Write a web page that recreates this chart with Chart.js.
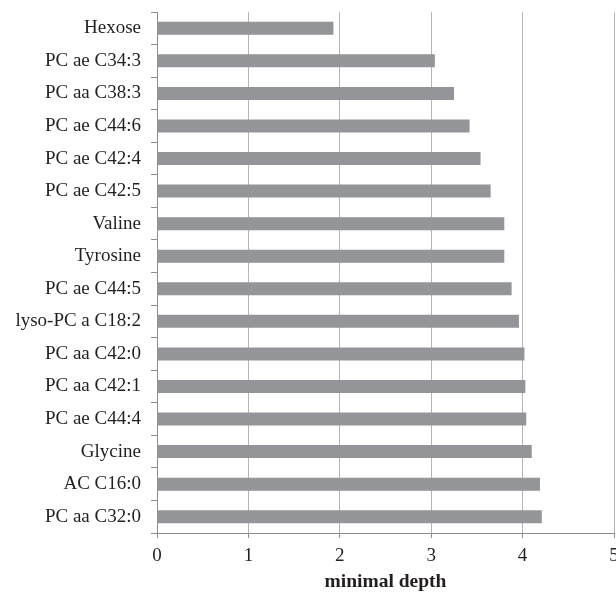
<!DOCTYPE html>
<html>
<head>
<meta charset="utf-8">
<script src="https://cdn.jsdelivr.net/npm/chart.js@4"></script>
<style>
  html, body { margin: 0; padding: 0; background: #fff; overflow: hidden; }
  #wrap { width: 616px; height: 594px; }
</style>
</head>
<body>
<div id="wrap"><canvas id="chartCanvas"></canvas></div>
<script>
    // Données
    const categories = [
        'Hexose', 'PC ae C34:3', 'PC aa C38:3', 'PC ae C44:6', 'PC ae C42:4',
        'PC ae C42:5', 'Valine', 'Tyrosine', 'PC ae C44:5', 'lyso-PC a C18:2',
        'PC aa C42:0', 'PC aa C42:1', 'PC ae C44:4', 'Glycine', 'AC C16:0', 'PC aa C32:0'
    ];
    const minimalDepth = [
        1.93, 3.04, 3.25, 3.42, 3.54,
        3.65, 3.80, 3.80, 3.88, 3.96,
        4.02, 4.03, 4.04, 4.10, 4.19, 4.21
    ];
    const xTicks = [0, 1, 2, 3, 4, 5];

    const serif = "'Liberation Serif', 'DejaVu Serif', serif";

    new Chart(document.getElementById('chartCanvas'), {
        type: 'bar',
        data: {
            labels: categories,
            datasets: [{
                data: minimalDepth,
                backgroundColor: '#939598',
                borderWidth: 0,
                barPercentage: 0.4,
                categoryPercentage: 1.0
            }]
        },
        options: {
            indexAxis: 'y',
            responsive: true,
            maintainAspectRatio: false,
            animation: false,
            layout: { padding: { top: 12, left: 0, right: 0, bottom: 0 } },
            plugins: {
                legend: { display: false },
                tooltip: { enabled: false }
            },
            scales: {
                x: {
                    min: 0,
                    max: 5,
                    afterBuildTicks: (scale) => {
                        scale.ticks = xTicks.map(v => ({ value: v }));
                    },
                    afterFit: (scale) => {
                        scale.height = 61;
                        // le "5" est coupé au bord droit comme dans l'original
                        scale.paddingRight = 2;
                    },
                    grid: {
                        color: '#b5b5b5',
                        lineWidth: 1,
                        tickLength: 5,
                        tickColor: '#8c8c8c'
                    },
                    border: { color: '#8c8c8c', width: 1 },
                    ticks: {
                        color: '#231f20',
                        padding: 7,
                        font: { family: serif, size: 19 }
                    },
                    title: {
                        display: true,
                        text: 'minimal depth',
                        color: '#231f20',
                        padding: { top: 4, bottom: 0 },
                        font: { family: serif, size: 19.5, weight: 'bold' }
                    }
                },
                y: {
                    afterFit: (scale) => {
                        scale.width = 157;
                        scale.paddingTop = 0;
                        scale.paddingBottom = 0;
                    },
                    grid: {
                        drawOnChartArea: false,
                        drawTicks: true,
                        tickLength: 6,
                        tickColor: '#8c8c8c',
                        offset: true
                    },
                    border: { color: '#8c8c8c', width: 1 },
                    ticks: {
                        color: '#231f20',
                        padding: 10,
                        font: { family: serif, size: 19 }
                    }
                }
            }
        }
    });
</script>
</body>
</html>
